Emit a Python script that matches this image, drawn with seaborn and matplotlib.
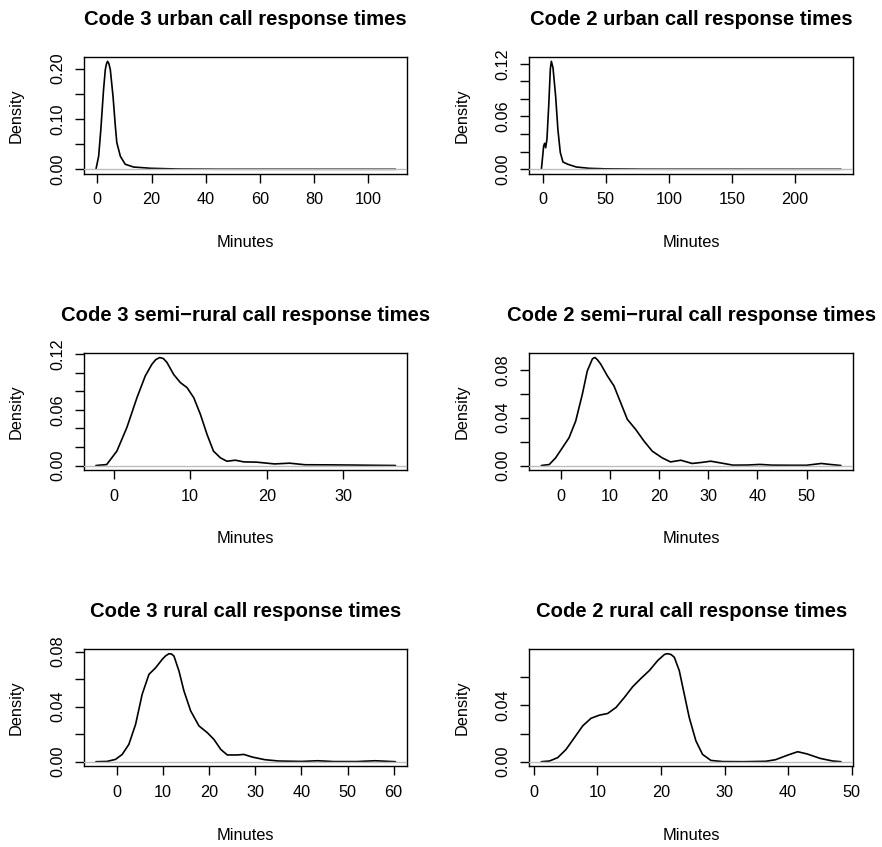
import numpy as np
import pandas as pd
import matplotlib
matplotlib.use("Agg")
import matplotlib.pyplot as plt
import seaborn as sns

# density curves (minutes, density)
u3_x = [-0.5, 0.5, 1.3, 2.3, 2.95, 3.4, 3.8, 4.3, 4.8, 5.8, 6.65, 7.2, 8.5, 10.3, 13.4, 19.6,
        30, 45, 110]
u3_y = [0, 0.026, 0.079, 0.158, 0.198, 0.210, 0.2146, 0.2095, 0.198, 0.145, 0.086, 0.053,
        0.026, 0.010, 0.0045, 0.002, 0.0005, 0.0001, 0]

u2_x = [-1.0, 0.8, 1.6, 2.4, 3.4, 4.8, 6.1, 6.9, 8.2, 10.3, 12.1, 14.0, 16.1, 20, 26.7, 37,
        50, 80, 236.5]
u2_y = [0, 0.0265, 0.0295, 0.0245, 0.034, 0.072, 0.114, 0.1227, 0.1155, 0.083, 0.045, 0.019,
        0.0083, 0.0057, 0.0026, 0.0011, 0.0005, 0.0001, 0]

s3_x = [-2.3, -0.9, 0.43, 1.74, 3.05, 4.14, 5.0, 5.5, 6.02, 6.5, 6.97, 7.85, 8.72, 9.59, 10.47,
        11.34, 12.2, 13.04, 13.96, 14.8, 15.9, 17, 18.7, 21, 23, 25, 28, 31, 33, 36.8]
s3_y = [0, 0.001, 0.0155, 0.041, 0.073, 0.0965, 0.109, 0.114, 0.1163, 0.1152, 0.111, 0.098,
        0.0893, 0.0839, 0.073, 0.055, 0.0335, 0.0155, 0.0082, 0.0046, 0.0057, 0.0039, 0.0036,
        0.0017, 0.0025, 0.0008, 0.0007, 0.0005, 0.0003, 0]

s2_x = [-4.0, -2.4, -1.1, 0.27, 1.63, 2.99, 4.34, 5.35, 6.37, 6.6, 6.92, 7.4, 8.08, 9.43, 10.79,
        12.15, 13.5, 15.2, 16.9, 18.58, 20.6, 22.3, 24.4, 26.7, 28.5, 30.5, 33, 35, 38, 40.5,
        43, 47, 50, 53, 55, 57.0]
s2_y = [0, 0.0008, 0.0064, 0.0148, 0.0232, 0.0372, 0.0596, 0.0791, 0.089, 0.0898, 0.0903,
        0.0885, 0.0848, 0.075, 0.0665, 0.0525, 0.0386, 0.0302, 0.0204, 0.012, 0.0064, 0.003,
        0.0044, 0.0017, 0.0025, 0.0036, 0.0018, 0.0003, 0.0004, 0.0009, 0.0003, 0.0002, 0.0002,
        0.0017, 0.0008, 0]

r3_x = [-4.6, -2.2, -0.35, 1.1, 2.54, 4.0, 5.43, 6.9, 8.35, 9.78, 10.5, 11.24, 11.8, 12.33,
        13.41, 14.5, 15.96, 17.76, 19.57, 21.0, 22.5, 23.9, 26.1, 27.5, 29.3, 32, 35, 40, 43.5,
        47, 52, 56, 60.4]
r3_y = [0, 0.0002, 0.0017, 0.0053, 0.0126, 0.0271, 0.049, 0.0635, 0.0683, 0.0744, 0.0769,
        0.0785, 0.0783, 0.0768, 0.066, 0.0514, 0.0369, 0.026, 0.0211, 0.0162, 0.0089, 0.0049,
        0.0049, 0.0053, 0.0034, 0.0015, 0.0005, 0.0002, 0.0007, 0.0001, 0.0001, 0.0007, 0]

r2_x = [1.2, 2.47, 3.77, 5.09, 6.39, 7.7, 9.01, 10.32, 11.62, 12.94, 14.25, 15.55, 16.87, 18.17,
        19.48, 20.53, 20.9, 21.2, 21.6, 22.1, 22.88, 23.67, 24.45, 25.5, 26.54, 27.86, 29.7, 33,
        36.5, 38, 40, 41.5, 43, 45, 47, 48.3]
r2_y = [0, 0.0005, 0.0029, 0.0088, 0.0171, 0.0255, 0.0309, 0.0331, 0.0343, 0.0386, 0.0457,
        0.0533, 0.0593, 0.0648, 0.0719, 0.0762, 0.0768, 0.0767, 0.0762, 0.0743, 0.0648, 0.048,
        0.0314, 0.0148, 0.0052, 0.0009, 0.0001, 0, 0.0003, 0.0014, 0.0048, 0.0071, 0.0055,
        0.0024, 0.0005, 0]

titles = ["Code 3 urban call response times", "Code 2 urban call response times",
          "Code 3 semi\u2212rural call response times", "Code 2 semi\u2212rural call response times",
          "Code 3 rural call response times", "Code 2 rural call response times"]
curves = [(u3_x, u3_y), (u2_x, u2_y), (s3_x, s3_y), (s2_x, s2_y), (r3_x, r3_y), (r2_x, r2_y)]
xticks = [np.arange(0, 101, 20), np.arange(0, 201, 50), np.arange(0, 31, 10),
          np.arange(0, 51, 10), np.arange(0, 61, 10), np.arange(0, 51, 10)]
yticks = [np.arange(0, 0.201, 0.05), np.arange(0, 0.121, 0.02), np.arange(0, 0.121, 0.02),
          np.arange(0, 0.081, 0.02), np.arange(0, 0.081, 0.02), np.arange(0, 0.061, 0.02)]
ylabel_every = [2, 3, 3, 2, 2, 2]

sns.set_theme(style="ticks")
plt.rcParams['font.family'] = ['Liberation Sans', 'DejaVu Sans']
plt.rcParams['text.color'] = 'black'
plt.rcParams['axes.labelcolor'] = 'black'

fig, axes = plt.subplots(3, 2, figsize=(8.82, 8.47), dpi=100)
fig.subplots_adjust(left=0.0952, right=0.967, bottom=0.0956, top=0.9327,
                    wspace=0.377, hspace=1.54)

for i, ax in enumerate(axes.flat):
    x, y = curves[i]
    df = pd.DataFrame({'Minutes': x, 'Density': y})
    sns.lineplot(data=df, x='Minutes', y='Density', ax=ax, color='black',
                 linewidth=1.2, sort=False, estimator=None)
    # R's grey zero line drawn over the curve
    ax.axhline(0, color='#BEBEBE', linewidth=1.0, zorder=3)
    ax.margins(x=0.04, y=0.04)

    ax.set_xticks(xticks[i])
    ax.set_yticks(yticks[i])
    step = ylabel_every[i]
    ax.set_yticklabels([f"{v:.2f}" if k % step == 0 else "" for k, v in enumerate(yticks[i])],
                       rotation=90, va='center')
    ax.tick_params(axis='both', direction='out', length=6.5, width=1.0, color='black',
                   labelsize=11.7, labelcolor='black', pad=7)
    for sp in ax.spines.values():
        sp.set_visible(True)
        sp.set_linewidth(1.0)
        sp.set_color('black')

    ax.set_title(titles[i], fontsize=14.6, fontweight='bold', pad=23)
    ax.set_xlabel('Minutes', fontsize=11.8, labelpad=20)
    ax.set_ylabel('Density', fontsize=11.8, labelpad=19)

plt.savefig('out.png', dpi=100)
